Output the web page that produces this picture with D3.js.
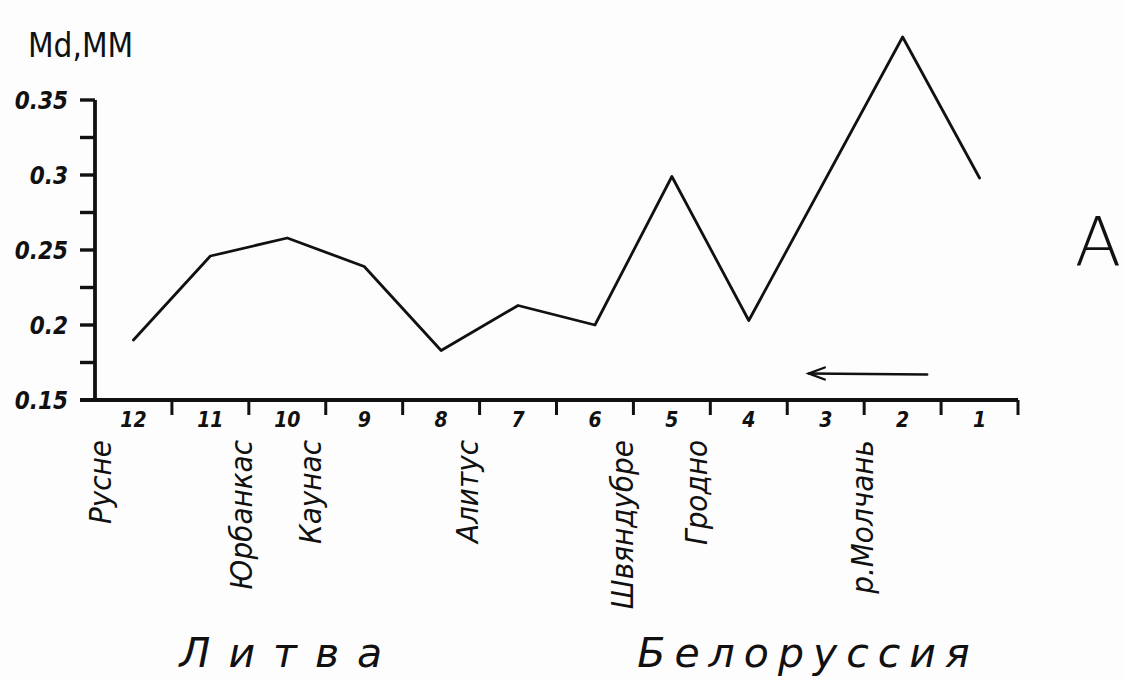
<!DOCTYPE html>
<html>
<head>
<meta charset="utf-8">
<script src="https://cdn.jsdelivr.net/npm/d3@7"></script>
<style>
  html, body { margin: 0; padding: 0; background: #fdfdfd; }
  svg { display: block; }
  text { fill: #111; }
</style>
</head>
<body>
<svg id="chart" width="1125" height="681"></svg>
<script>
// Sample stations, numbered downstream-to-upstream along the river
const categories = [12, 11, 10, 9, 8, 7, 6, 5, 4, 3, 2, 1];
// Median grain size Md (mm) per station; station 3 has no sample
const mdValues = [0.19, 0.246, 0.258, 0.239, 0.183, 0.213, 0.2, 0.299, 0.203, null, 0.392, 0.298];

const yMajorTicks = [0.15, 0.2, 0.25, 0.3, 0.35];
const yMinorTicks = [0.175, 0.225, 0.275, 0.325];

// Towns along the river and where they sit in station units
const placeNames = ["Русне", "Юрбанкас", "Каунас", "Алитус", "Швяндубре", "Гродно", "р.Молчань"];
const placeStations = [12.43, 10.6, 9.7, 7.66, 5.65, 4.68, 2.53];

const regionNames = ["Литва", "Белоруссия"];
const regionStations = [11.4, 5.45];

const svg = d3.select("#chart");
const ink = "#111";
const condensed = "'DejaVu Sans Condensed', 'DejaVu Sans', sans-serif";

const x = d3.scaleBand().domain(categories).range([95, 1018]).padding(0);
const bw = x.bandwidth();
const xs = d3.scaleLinear()
  .domain([categories[0], categories[categories.length - 1]])
  .range([x(categories[0]) + bw / 2, x(categories[categories.length - 1]) + bw / 2]);
const y = d3.scaleLinear().domain([0.15, 0.35]).range([400, 100]);

// Y axis with labelled and unlabelled ticks
const yAxis = svg.append("g").attr("transform", `translate(${x.range()[0]},0)`);
yAxis.append("line")
  .attr("x1", 0).attr("x2", 0)
  .attr("y1", y(0.35)).attr("y2", y(0.15) + 2)
  .attr("stroke", ink).attr("stroke-width", 3.8);
yAxis.selectAll("line.tick")
  .data(yMajorTicks.concat(yMinorTicks))
  .join("line")
  .attr("class", "tick")
  .attr("x1", -15).attr("x2", 0)
  .attr("y1", d => y(d)).attr("y2", d => y(d))
  .attr("stroke", ink).attr("stroke-width", 3.4);
yAxis.selectAll("text")
  .data(yMajorTicks)
  .join("text")
  .attr("x", -27)
  .attr("y", d => y(d) + 9)
  .attr("text-anchor", "end")
  .attr("font-family", condensed)
  .attr("font-style", "italic")
  .attr("font-weight", "bold")
  .attr("font-size", 24)
  .text(d => String(d));

// Axis title
svg.append("text")
  .attr("x", 28).attr("y", 57)
  .attr("font-family", condensed)
  .attr("font-size", 33)
  .text("Md,ММ");

// X axis: baseline, boundary ticks between stations, station numbers
const xAxis = svg.append("g").attr("transform", `translate(0,${y(0.15)})`);
xAxis.append("line")
  .attr("x1", x.range()[0] - 15).attr("x2", x.range()[1])
  .attr("y1", 0).attr("y2", 0)
  .attr("stroke", ink).attr("stroke-width", 3.8);
xAxis.selectAll("line.tick")
  .data(categories)
  .join("line")
  .attr("class", "tick")
  .attr("x1", d => x(d) + bw).attr("x2", d => x(d) + bw)
  .attr("y1", 0).attr("y2", 15)
  .attr("stroke", ink).attr("stroke-width", 3);
xAxis.selectAll("text")
  .data(categories)
  .join("text")
  .attr("x", d => x(d) + bw / 2)
  .attr("y", 27)
  .attr("text-anchor", "middle")
  .attr("font-family", condensed)
  .attr("font-style", "italic")
  .attr("font-weight", "bold")
  .attr("font-size", 21)
  .text(d => d);

// Md profile; the missing station is bridged by a straight segment
const pts = categories.map((c, i) => ({ c, v: mdValues[i] })).filter(d => d.v != null);
const line = d3.line().x(d => x(d.c) + bw / 2).y(d => y(d.v));
svg.append("path")
  .datum(pts)
  .attr("d", line)
  .attr("fill", "none")
  .attr("stroke", ink)
  .attr("stroke-width", 2.8)
  .attr("stroke-linejoin", "round")
  .attr("stroke-linecap", "round");

// Flow direction arrow
const ay = y(0.167);
const ax1 = xs(1.68), ax2 = xs(3.22);
const arrow = svg.append("g").attr("stroke", ink).attr("fill", "none").attr("stroke-width", 2.4)
  .attr("stroke-linecap", "round");
arrow.append("line").attr("x1", ax1).attr("x2", ax2).attr("y1", ay).attr("y2", ay - 1);
arrow.append("path").attr("d", `M${ax2 + 16},${ay - 7} L${ax2},${ay - 1} L${ax2 + 16},${ay + 5}`);

// Town names, written vertically below the axis
svg.selectAll("text.place")
  .data(placeNames)
  .join("text")
  .attr("class", "place")
  .attr("transform", (d, i) => `translate(${xs(placeStations[i]) + 11},440) rotate(-90)`)
  .attr("text-anchor", "end")
  .attr("font-family", condensed)
  .attr("font-style", "italic")
  .attr("font-size", 31)
  .text(d => d);

// Region names
svg.selectAll("text.region")
  .data(regionNames)
  .join("text")
  .attr("class", "region")
  .attr("x", (d, i) => xs(regionStations[i]))
  .attr("y", 667)
  .attr("font-family", "'DejaVu Sans', sans-serif")
  .attr("font-style", "italic")
  .attr("font-size", 41)
  .attr("letter-spacing", (d, i) => i === 0 ? 18 : 9)
  .text(d => d);

// Panel letter
svg.append("text")
  .attr("x", 1098).attr("y", 266)
  .attr("text-anchor", "middle")
  .attr("font-family", "'DejaVu Sans', sans-serif")
  .attr("font-weight", 200)
  .attr("font-size", 68)
  .text("А");
</script>
</body>
</html>
